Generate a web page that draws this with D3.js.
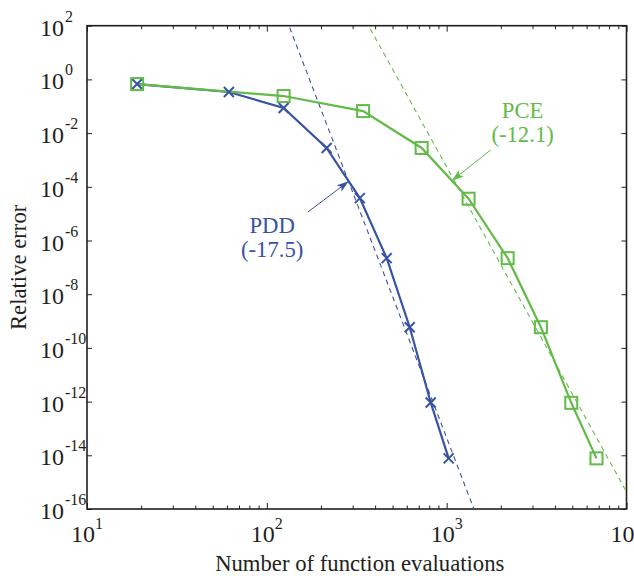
<!DOCTYPE html>
<html>
<head>
<meta charset="utf-8">
<script src="https://cdn.jsdelivr.net/npm/d3@7"></script>
<style>
  html, body { margin: 0; padding: 0; background: #fff; }
  svg { display: block; }
  text { font-family: "Liberation Serif", "Times New Roman", serif; }
</style>
</head>
<body>
<svg id="chart" width="634" height="576"></svg>
<script>
// ---------- data ----------
const pddEvals = [19, 61.5, 124, 215, 329, 464, 623, 815, 1026];
const pddError = [0.67, 0.34, 0.086, 0.0028, 3.8e-5, 2.2e-7, 5.9e-10, 9.3e-13, 7.7e-15];
const pceEvals = [19, 124, 343, 726, 1324, 2183, 3342, 4930, 6810];
const pceError = [0.67, 0.24, 0.066, 0.0028, 3.6e-5, 2.2e-7, 5.9e-10, 9.0e-13, 7.7e-15];
// fitted convergence lines: log10(err) = intercept + slope * log10(N)
const fitNames = ["PDD", "PCE"];
const fitSlopes = [-17.5, -12.1];
const fitIntercepts = [39.15, 33.04];
const xTickExps = [1, 2, 3, 4];
const yTickExps = [2, 0, -2, -4, -6, -8, -10, -12, -14, -16];
const labelTexts = [["PDD", "(-17.5)"], ["PCE", "(-12.1)"]];
const labelPos = [[107, 10 ** -5.72], [2644, 10 ** -1.44]];
const arrowFrom = [[169, 10 ** -4.94], [1755, 10 ** -2.63]];
const arrowTo = [[282, 10 ** -3.82], [1080, 10 ** -3.75]];

// ---------- layout ----------
const W = 634, H = 576;
const L = 87, R = 626.5, T = 25.7, B = 509;
const blue = "#3853a4", green = "#62bb47", axisCol = "#231f20";
const fontSize = 22.7, tickSize = 24, supSize = 16;

const svg = d3.select("#chart");
const x = d3.scaleLog().domain([10, 1e4]).range([L, R]);
const y = d3.scaleLog().domain([1e-16, 1e2]).range([B, T]);

svg.append("defs").append("clipPath").attr("id", "plotclip")
  .append("rect").attr("x", L).attr("y", T).attr("width", R - L).attr("height", B - T);

const defs = svg.select("defs");
[["arrB", blue], ["arrG", green]].forEach(([id, c]) => {
  defs.append("marker").attr("id", id)
    .attr("viewBox", "0 0 12 8").attr("refX", 11).attr("refY", 4)
    .attr("markerWidth", 12).attr("markerHeight", 8)
    .attr("markerUnits", "userSpaceOnUse").attr("orient", "auto")
    .append("path").attr("d", "M0,0 L12,4 L0,8 L3,4 Z").attr("fill", c);
});

// ---------- ticks ----------
const majorX = xTickExps.map(e => 10 ** e);
const minorX = [];
for (let e = 1; e < 4; e++) for (let m = 2; m <= 9; m++) minorX.push(m * 10 ** e);
const majorY = yTickExps.map(e => 10 ** e);

function styleAxis(g) {
  g.select(".domain").remove();
  g.selectAll("line").attr("stroke", axisCol).attr("stroke-width", 1);
  g.selectAll("text").remove();
}
svg.append("g").attr("transform", `translate(0,${B})`)
  .call(d3.axisBottom(x).tickValues(majorX).tickSize(-6).tickFormat("")).call(styleAxis);
svg.append("g").attr("transform", `translate(0,${B})`)
  .call(d3.axisBottom(x).tickValues(minorX).tickSize(-3.5).tickFormat("")).call(styleAxis);
svg.append("g").attr("transform", `translate(0,${T})`)
  .call(d3.axisTop(x).tickValues(majorX).tickSize(-6).tickFormat("")).call(styleAxis);
svg.append("g").attr("transform", `translate(0,${T})`)
  .call(d3.axisTop(x).tickValues(minorX).tickSize(-3.5).tickFormat("")).call(styleAxis);
svg.append("g").attr("transform", `translate(${L},0)`)
  .call(d3.axisLeft(y).tickValues(majorY).tickSize(-5).tickFormat("")).call(styleAxis);
svg.append("g").attr("transform", `translate(${R},0)`)
  .call(d3.axisRight(y).tickValues(majorY).tickSize(-5).tickFormat("")).call(styleAxis);

// box
svg.append("rect").attr("x", L).attr("y", T).attr("width", R - L).attr("height", B - T)
  .attr("fill", "none").attr("stroke", axisCol).attr("stroke-width", 1.6);

// tick labels
xTickExps.forEach(e => {
  const t = svg.append("text").attr("x", x(10 ** e)).attr("y", B + 33)
    .attr("text-anchor", "middle").attr("font-size", tickSize).attr("fill", axisCol);
  t.append("tspan").text("10");
  t.append("tspan").attr("dy", -13).attr("font-size", supSize).text(e);
});
yTickExps.forEach(e => {
  const yy = y(10 ** e);
  svg.append("text").attr("x", 64).attr("y", yy + 10).attr("text-anchor", "end")
    .attr("font-size", tickSize).attr("fill", axisCol).text("10");
  svg.append("text").attr("x", 65).attr("y", yy - 4).attr("text-anchor", "start")
    .attr("font-size", supSize).attr("fill", axisCol).text(e < 0 ? "-" + Math.abs(e) : String(e));
});

// axis titles
svg.append("text").attr("x", (L + R) / 2 + 3).attr("y", 571).attr("text-anchor", "middle")
  .attr("font-size", fontSize).attr("fill", axisCol).text("Number of function evaluations");
svg.append("text").attr("transform", `translate(26,${(T + B) / 2}) rotate(-90)`)
  .attr("text-anchor", "middle").attr("font-size", fontSize).attr("fill", axisCol).text("Relative error");

// ---------- plot ----------
const plot = svg.append("g").attr("clip-path", "url(#plotclip)");
const line = d3.line().x(d => x(d[0])).y(d => y(d[1]));

// fit lines (dashed)
fitNames.forEach((n, i) => {
  const xs = [10, 1e4];
  const pts = xs.map(v => [v, 10 ** (fitIntercepts[i] + fitSlopes[i] * Math.log10(v))]);
  plot.append("path").attr("d", line(pts)).attr("fill", "none")
    .attr("stroke", i === 0 ? blue : green).attr("stroke-width", 1.1)
    .attr("stroke-dasharray", "5,4");
});

const pdd = pddEvals.map((v, i) => [v, pddError[i]]);
const pce = pceEvals.map((v, i) => [v, pceError[i]]);

plot.append("path").attr("d", line(pdd)).attr("fill", "none").attr("stroke", blue).attr("stroke-width", 2.2);
plot.append("path").attr("d", line(pce)).attr("fill", "none").attr("stroke", green).attr("stroke-width", 2.2);

// markers
const s = 5;
plot.selectAll(".xm").data(pdd).enter().append("path")
  .attr("d", d => { const cx = x(d[0]), cy = y(d[1]);
    return `M${cx - s},${cy - s}L${cx + s},${cy + s}M${cx - s},${cy + s}L${cx + s},${cy - s}`; })
  .attr("stroke", blue).attr("stroke-width", 2).attr("fill", "none");
const q = 6;
plot.selectAll(".sq").data(pce).enter().append("rect")
  .attr("x", d => x(d[0]) - q).attr("y", d => y(d[1]) - q)
  .attr("width", 2 * q).attr("height", 2 * q)
  .attr("fill", "none").attr("stroke", green).attr("stroke-width", 2);

// annotations
[blue, green].forEach((c, i) => {
  svg.append("line")
    .attr("x1", x(arrowFrom[i][0])).attr("y1", y(arrowFrom[i][1]))
    .attr("x2", x(arrowTo[i][0])).attr("y2", y(arrowTo[i][1]))
    .attr("stroke", c).attr("stroke-width", 1)
    .attr("marker-end", `url(#${i === 0 ? "arrB" : "arrG"})`);
  const t = svg.append("text").attr("text-anchor", "middle").attr("font-size", fontSize).attr("fill", c);
  labelTexts[i].forEach((s2, k) => {
    t.append("tspan").attr("x", x(labelPos[i][0])).attr("y", y(labelPos[i][1]) + k * 24).text(s2);
  });
});
</script>
</body>
</html>
